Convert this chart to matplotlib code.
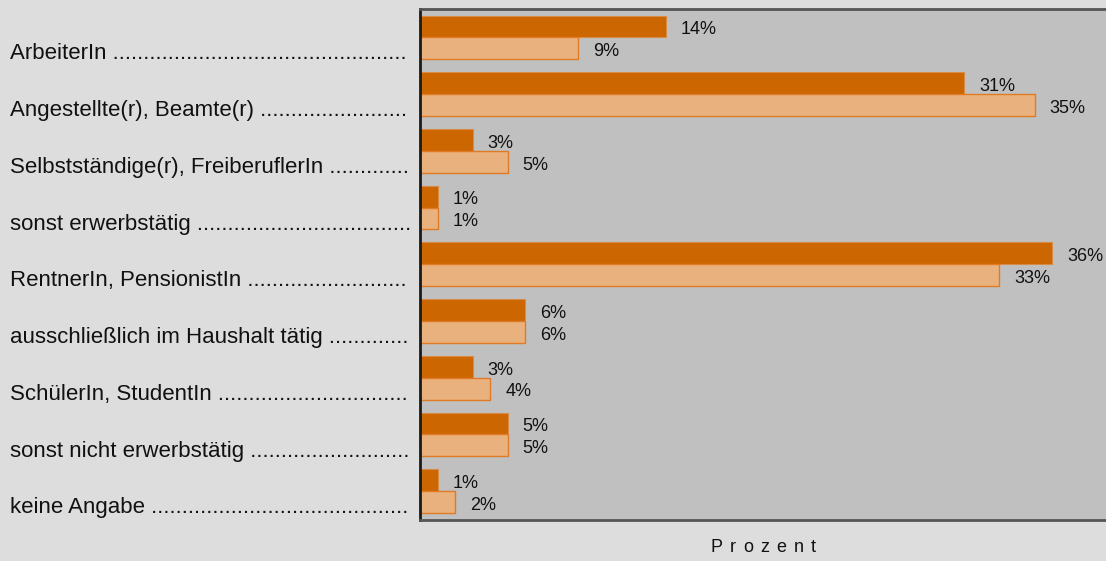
import matplotlib
matplotlib.use("Agg")
import matplotlib.pyplot as plt

plt.rcParams['font.family'] = ['Liberation Sans', 'DejaVu Sans']

categories = [
    "ArbeiterIn",
    "Angestellte(r), Beamte(r)",
    "Selbstständige(r), FreiberuflerIn",
    "sonst erwerbstätig",
    "RentnerIn, PensionistIn",
    "ausschließlich im Haushalt tätig",
    "SchülerIn, StudentIn",
    "sonst nicht erwerbstätig",
    "keine Angabe",
]
series_a = [14, 31, 3, 1, 36, 6, 3, 5, 1]
series_b = [9, 35, 5, 1, 33, 6, 4, 5, 2]
axis_title = "Prozent"

W, H, DPI = 1106, 561, 100
PT = 72 / DPI  # points per pixel
fig = plt.figure(figsize=(W / DPI, H / DPI), dpi=DPI, facecolor='#dddddd')

ax_left, ax_right = 420 / W, 1.0
ax_top, ax_bot = 1 - 9 / H, 1 - 519.5 / H
ax = fig.add_axes([ax_left, ax_bot, ax_right - ax_left, ax_top - ax_bot])
ax.set_facecolor('#c0c0c0')

bar_h = 0.385
ys = list(range(len(categories)))
ya = [y - bar_h / 2 for y in ys]
yb = [y + bar_h / 2 for y in ys]

ax.barh(ya, series_a, height=bar_h, color='#cc6600', edgecolor='#d98a45', linewidth=0.8)
ax.barh(yb, series_b, height=bar_h, color='#e8b17e', edgecolor='#e07a25', linewidth=1.0)

ax.set_xlim(0, (W - 420) / 17.56)
ax.set_ylim(len(categories) - 0.5, -0.5)
ax.set_xticks([])
ax.set_yticks([])

for side in ('top', 'bottom'):
    ax.spines[side].set_color('#555555')
    ax.spines[side].set_linewidth(2)
ax.spines['left'].set_color('#1a1a1a')
ax.spines['left'].set_linewidth(2)
ax.spines['right'].set_visible(False)

for yy, vals in ((ya, series_a), (yb, series_b)):
    for y, v in zip(yy, vals):
        ax.annotate(f"{v}%", (v, y), xytext=(15 * PT, -7.8 * PT), textcoords='offset points',
                    va='baseline', ha='left', fontsize=13, color='#111111')

# category labels with dotted leaders up to the axis
fig.canvas.draw()
renderer = fig.canvas.get_renderer()
x0 = 10 / W
x_end = 412
for y, name in zip(yb, categories):
    t = ax.annotate(name + " ", (x0, y), xycoords=(fig.transFigure, ax.transData),
                    xytext=(0, -11.2 * PT), textcoords='offset points',
                    fontsize=16, ha='left', va='baseline', color='#111111',
                    annotation_clip=False)
    s = name + " "
    while True:
        trial = s + "."
        t.set_text(trial)
        bb = t.get_window_extent(renderer)
        if bb.x1 > x_end:
            t.set_text(s)
            break
        s = trial

# letter-spaced axis title centred under the visible plot area
chars = list(axis_title)
target_w = 105
cx = (420 + W) / 2
yfig = 1 - 548 / H
widths = []
texts = []
for ch in chars:
    t = fig.text(0, yfig, ch, ha='left', va='center', fontsize=13, color='#111111')
    widths.append(t.get_window_extent(renderer).width)
    texts.append(t)
gap = (target_w - sum(widths)) / (len(chars) - 1)
x = cx - target_w / 2
for t, w in zip(texts, widths):
    t.set_x(x / W)
    x += w + gap

fig.savefig("out.png", dpi=DPI, facecolor=fig.get_facecolor())
